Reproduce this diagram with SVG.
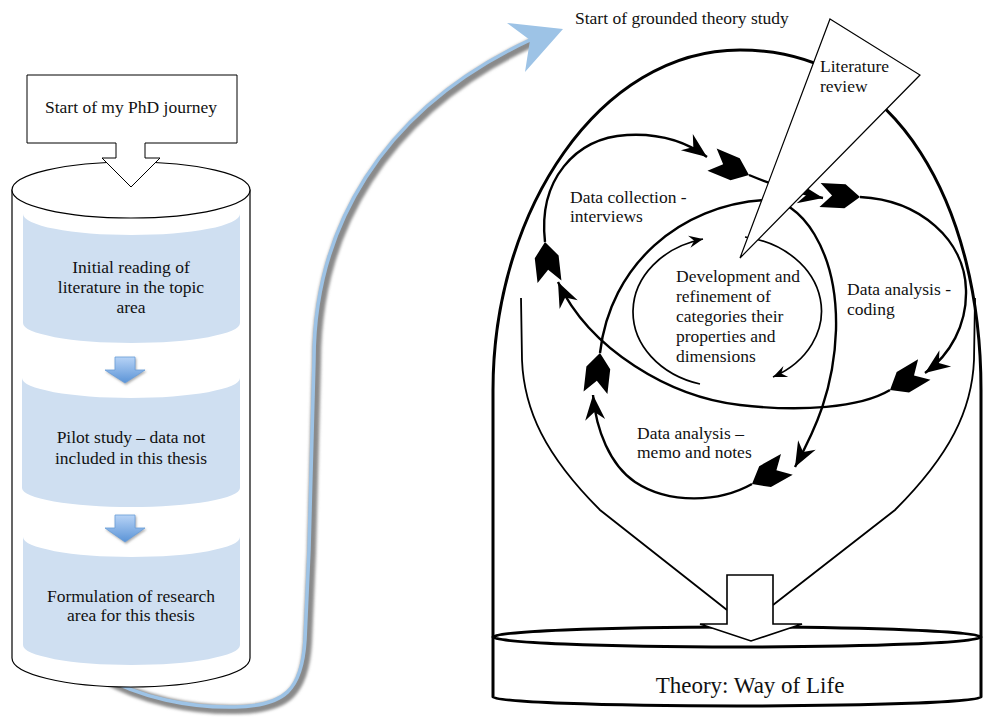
<svg xmlns="http://www.w3.org/2000/svg" width="984" height="719" viewBox="0 0 984 719">
<style>
.t{font-family:"Liberation Serif","Times New Roman",serif;font-size:17.5px;fill:#111}
.c{text-anchor:middle}
.ln{fill:none;stroke:#000}
.loop{fill:none;stroke:#000;stroke-width:2.4}
.band{fill:#cfdff1}
.barrow{fill:url(#bg);stroke:#6a9ed8;stroke-width:0.8;filter:url(#ds)}
</style>
<defs>
<linearGradient id="bg" x1="0" y1="0" x2="0" y2="1">
<stop offset="0" stop-color="#b7d3f6"/>
<stop offset="1" stop-color="#5b94d7"/>
</linearGradient>
<filter id="blur" x="-20%" y="-20%" width="140%" height="140%"><feGaussianBlur stdDeviation="1.6"/></filter>
<filter id="ds" x="-30%" y="-30%" width="160%" height="160%"><feDropShadow dx="1" dy="1.5" stdDeviation="1" flood-color="#777" flood-opacity="0.6"/></filter>
<marker id="head" markerUnits="userSpaceOnUse" viewBox="-30 -15 32 30" markerWidth="32" markerHeight="30" refX="0" refY="0" orient="auto">
<path d="M0,0 L-25,-10 L-17,0 L-25,10 Z" fill="#000"/>
</marker>
<marker id="fletch" markerUnits="userSpaceOnUse" viewBox="-44 -15 46 30" markerWidth="46" markerHeight="30" refX="0" refY="0" orient="auto">
<path d="M0,0 L-15,-12 L-40,-12 L-28,0 L-40,12 L-15,12 Z" fill="#000"/>
</marker>
<marker id="headS" markerUnits="userSpaceOnUse" viewBox="-16 -8 18 16" markerWidth="18" markerHeight="16" refX="0" refY="0" orient="auto">
<path d="M0,0 L-14,-6 L-9,0 L-14,6 Z" fill="#000"/>
</marker>
</defs>

<rect width="984" height="719" fill="#fff"/>

<g id="connectors">
<g id="journey-arrow">
<path d="M100,675 C140,698 190,708 235,707 C285,706 302,690 305,640 L309,550 C311,480 313,420 314,360 C314,230 380,110 530,40" transform="translate(2.5,2.5)" fill="none" stroke="#8a8a8a" stroke-width="9" filter="url(#blur)"/>
<path d="M100,675 C140,698 190,708 235,707 C285,706 302,690 305,640 L309,550 C311,480 313,420 314,360 C314,230 380,110 530,40" fill="none" stroke="#9dc3e6" stroke-width="3.5"/>
<polygon points="507,23 563,29 525,72 530,40" fill="#9dc3e6"/>
</g>
</g>

<g id="phd-cylinder">
<path d="M12,190 V658 A119,29 0 0 0 250,658 V190 Z" fill="#fff" stroke="#000" stroke-width="1.2"/>
<ellipse cx="131" cy="190" rx="119" ry="28" fill="#fff" stroke="#000" stroke-width="1.2"/>
</g>

<g id="initial-reading">
<path class="band" d="M23,214 A108.5,21 0 0 0 240,214 V323 A108.5,20 0 0 1 23,323 Z"/>
<text class="t c" x="131" y="273">Initial reading of</text>
<text class="t c" x="131" y="293">literature in the topic</text>
<text class="t c" x="131" y="313">area</text>
</g>
<g id="arrow-1"><path class="barrow" d="M115,357 H135 V370 H145 L125,383 L105,370 H115 Z"/></g>
<g id="pilot-study">
<path class="band" d="M22,378 A109,20 0 0 0 240,378 V488 A109,19 0 0 1 22,488 Z"/>
<text class="t c" x="131" y="443">Pilot study – data not</text>
<text class="t c" x="131" y="464">included in this thesis</text>
</g>
<g id="arrow-2"><path class="barrow" d="M115,515 H135 V528 H145 L125,542 L105,528 H115 Z"/></g>
<g id="formulation">
<path class="band" d="M23,537 A108.5,20 0 0 0 240,537 V645 A108.5,20 0 0 1 23,645 Z"/>
<text class="t c" x="131" y="602">Formulation of research</text>
<text class="t c" x="131" y="621">area for this thesis</text>
</g>

<g id="start-phd">
<path d="M27,75 H237 V143 H145 V158 H160 L131,187 L102,158 H116 V143 H27 Z" fill="#fff" stroke="#000" stroke-width="1"/>
<text class="t c" x="131" y="113">Start of my PhD journey</text>
</g>

<g id="gt-label">
<text class="t" x="575" y="24">Start of grounded theory study</text>
</g>

<g id="bell-jar">
<path class="ln" stroke-width="3" d="M493,697 L493,390 C493,210 600,50 740,50 C900,50 981,210 981,390 L981,697"/>
<path class="ln" stroke-width="1.8" d="M521,298 L522,360 C524,410 545,455 600,510 L727,610"/>
<path class="ln" stroke-width="1.8" d="M975,298 L974,360 C972,410 950,455 895,510 L773,605"/>
</g>

<g id="theory-base">
<path class="ln" stroke-width="3" d="M493,697 A244,9 0 0 0 981,697"/>
<ellipse cx="737" cy="637" rx="244" ry="10" fill="#fff" stroke="#000" stroke-width="3"/>
<text class="t c" x="750" y="693" style="font-size:23px">Theory: Way of Life</text>
</g>

<g id="cycle-connectors">
<path class="loop" marker-start="url(#fletch)" marker-end="url(#head)" d="M545,242 C538,180 575,138 627,135 C662,133 688,143 707,157"/>
<path class="loop" marker-start="url(#fletch)" marker-end="url(#head)" d="M749,175 Q790,192 823,198"/>
<path class="loop" marker-start="url(#fletch)" marker-end="url(#head)" d="M860,197 C920,200 965,240 966,290 C967,325 950,355 925,373"/>
<path class="loop" marker-start="url(#fletch)" marker-end="url(#head)" d="M890,390 C860,408 800,412 740,405 C670,397 590,350 558,282"/>
<path class="loop" marker-start="url(#fletch)" marker-end="url(#head)" d="M752,484 C720,502 670,505 635,482 C610,465 596,430 593,395"/>
<path class="loop" marker-start="url(#fletch)" marker-end="url(#head)" d="M600,353 C610,265 680,205 765,200 C800,198 838,250 836,330 C834,390 815,430 795,467"/>
<path class="ln" stroke-width="1.7" marker-end="url(#headS)" d="M700,384 A92,75 0 0 1 703,239"/>
<path class="ln" stroke-width="1.7" marker-end="url(#headS)" d="M745,237 A92,75 0 0 1 773,377"/>
</g>

<g id="data-collection">
<text class="t" x="570" y="203">Data collection -</text>
<text class="t" x="570" y="222">interviews</text>
</g>
<g id="categories">
<text class="t" x="676" y="282">Development and</text>
<text class="t" x="676" y="302">refinement of</text>
<text class="t" x="676" y="322">categories their</text>
<text class="t" x="676" y="342">properties and</text>
<text class="t" x="676" y="362">dimensions</text>
</g>
<g id="coding">
<text class="t" x="847" y="295">Data analysis -</text>
<text class="t" x="847" y="315">coding</text>
</g>
<g id="memo">
<text class="t" x="637" y="439">Data analysis –</text>
<text class="t" x="637" y="458">memo and notes</text>
</g>

<g id="to-theory">
<path d="M727,575 H773 V624 H802 L751,641 L700,624 H727 Z" fill="#fff" stroke="#000" stroke-width="1.6"/>
</g>

<g id="literature-review">
<polygon points="830,19 920,75 740,258" fill="#fff" stroke="#000" stroke-width="1.2"/>
<text class="t" x="820" y="72">Literature</text>
<text class="t" x="820" y="92">review</text>
</g>
</svg>
